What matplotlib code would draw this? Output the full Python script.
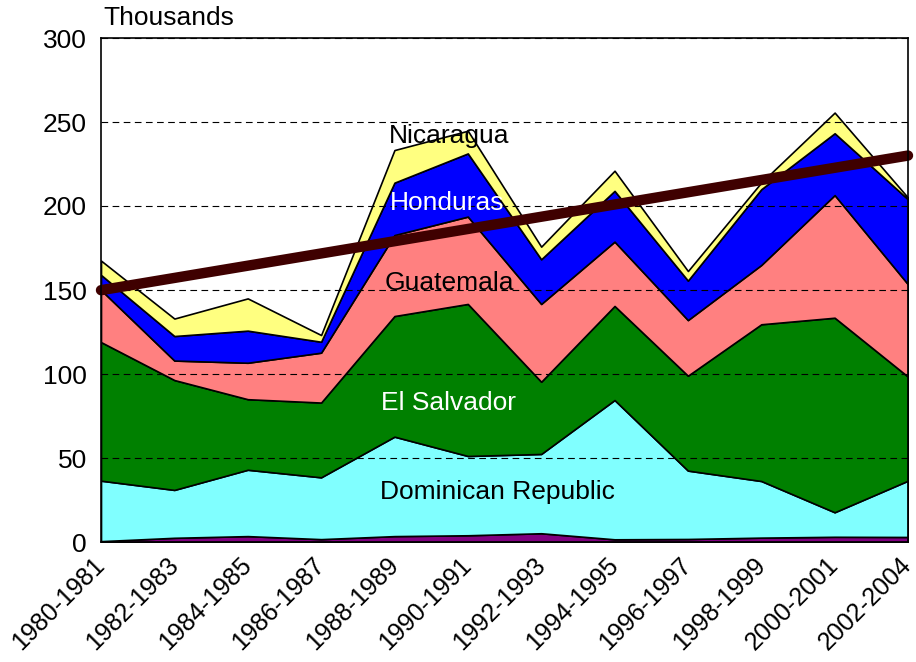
import numpy as np
import matplotlib.pyplot as plt

# periods on the x axis
periods = ['1980-1981', '1982-1983', '1984-1985', '1986-1987', '1988-1989', '1990-1991',
           '1992-1993', '1994-1995', '1996-1997', '1998-1999', '2000-2001', '2002-2004']

# values (thousands)
other_top = [0.5, 2.5, 3.5, 1.7, 3.5, 4.0, 5.2, 1.6, 1.8, 2.6, 3.1, 3.0]
dominican_top = [36.5, 31, 43, 38.5, 62.7, 51.2, 52.4, 84.5, 42.5, 36.3, 17.7, 36.5]
salvador_top = [119, 96.4, 85, 83, 134.5, 141.7, 95.4, 140.5, 99, 129.6, 133.5, 98.4]
guatemala_top = [150, 108, 106.7, 112.7, 182.7, 193.7, 141.7, 178.8, 132.1, 164.9, 206.5, 153.4]
honduras_top = [159, 122.6, 125.8, 119.2, 213.9, 231.3, 168.3, 209, 155.6, 210, 243.3, 204]
nicaragua_top = [167.5, 133, 145, 123.2, 233.3, 244.8, 175.8, 221, 161.3, 214, 255.6, 205]

tops = np.array([other_top, dominican_top, salvador_top, guatemala_top, honduras_top, nicaragua_top])
# back to per-country values for the stack
layers = np.diff(np.vstack([np.zeros(len(periods)), tops]), axis=0)

colors = ['#800080', '#80FFFF', '#008000', '#FF8080', '#0000FF', '#FFFF80']

plt.rcParams['font.family'] = ['Liberation Sans', 'DejaVu Sans']

fig = plt.figure(figsize=(9.16, 6.62), dpi=100)
ax = fig.add_axes([101 / 916, 120 / 662, 807 / 916, 504 / 662])

x = np.arange(len(periods))
ax.stackplot(x, layers, colors=colors, edgecolor='black', linewidth=1.2, zorder=2)

# linear trend of the totals
total = layers.sum(axis=0)
coef = np.polyfit(x, total, 1)
ax.plot(x[[0, -1]], np.polyval(coef, x[[0, -1]]), color='#3f0000', linewidth=7.5,
        solid_capstyle='round', zorder=4, clip_on=False)

ax.set_xlim(0, len(periods) - 1)
ax.set_ylim(0, 300)
ax.set_yticks(range(0, 301, 50))
ax.set_xticks(x)
ax.set_xticklabels(periods, rotation=45, ha='right', va='center', rotation_mode='anchor')
ax.tick_params(axis='y', length=0, labelsize=19, pad=10)
ax.tick_params(axis='x', length=0, labelsize=18, pad=14)

ax.yaxis.grid(True, linestyle=(0, (6, 4)), color='black', linewidth=0.8)
ax.set_axisbelow(False)
for s in ax.spines.values():
    s.set_linewidth(1.2)
    s.set_zorder(5)

# series labels inside the areas
ax.text(4.75, 241.5, 'Nicaragua', fontsize=19, color='black', ha='center', va='center', zorder=3)
ax.text(4.72, 202, 'Honduras', fontsize=19, color='white', ha='center', va='center', zorder=3)
ax.text(4.75, 154, 'Guatemala', fontsize=19, color='black', ha='center', va='center', zorder=3)
ax.text(4.73, 83, 'El Salvador', fontsize=19, color='white', ha='center', va='center', zorder=3)
ax.text(5.4, 29.5, 'Dominican Republic', fontsize=19, color='black', ha='center', va='center', zorder=3)

fig.text(103 / 916, 1 - 18 / 662, 'Thousands', fontsize=19, ha='left', va='center')

fig.savefig('out.png', dpi=100)
